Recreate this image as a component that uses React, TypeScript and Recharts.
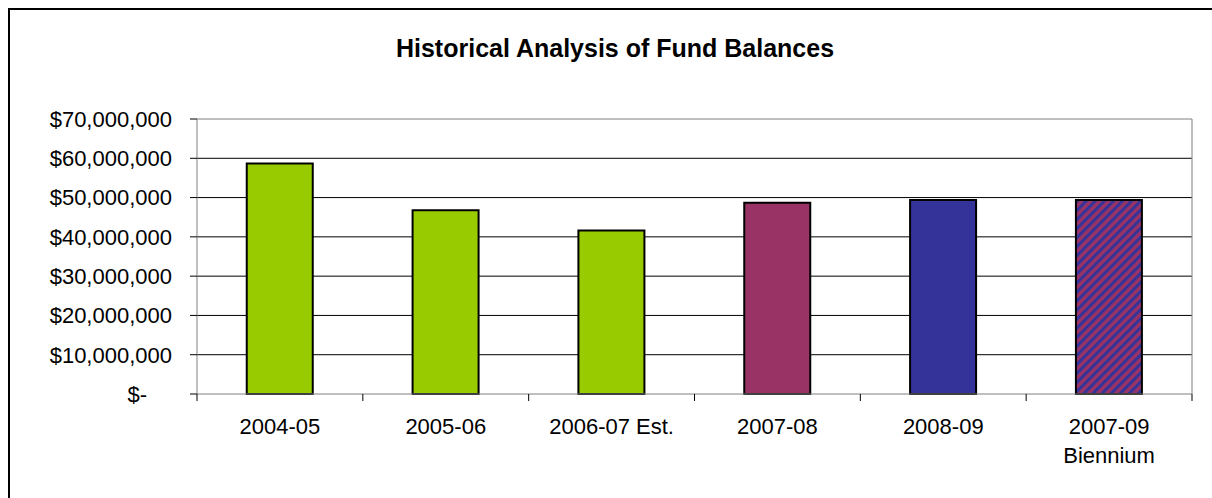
import { BarChart, Bar, XAxis, YAxis, CartesianGrid, Cell, ReferenceLine } from "recharts";

const categories = ["2004-05", "2005-06", "2006-07 Est.", "2007-08", "2008-09", "2007-09\nBiennium"];
const balances = [58700000, 46800000, 41600000, 48700000, 49400000, 49400000];
const yTicks = [0, 10000000, 20000000, 30000000, 40000000, 50000000, 60000000, 70000000];
const gridValues = [10000000, 20000000, 30000000, 40000000, 50000000, 60000000];

const barColors = ["#99CC00", "#99CC00", "#99CC00", "#993366", "#333399", "url(#bienniumStripes)"];

const data = categories.map((label, i) => ({ label, balance: balances[i] }));

const FONT = '"Liberation Sans", Arial, sans-serif';

function money(v: number) {
    return v === 0 ? "$-" : "$" + v.toLocaleString("en-US");
}

function YTick(props: any) {
    const { x, y, payload } = props;
    const v = payload.value;
    // the zero label sits further left (accounting format)
    return (
        <text x={v === 0 ? x - 25 : x} y={y} dy="0.36em" textAnchor="end" fontSize={22} fontFamily={FONT} fill="#000">
            {money(v)}
        </text>
    );
}

function XTick(props: any) {
    const { x, y, payload, index, width, visibleTicksCount } = props;
    const half = payload.offset || width / visibleTicksCount / 2;
    const axisY = y - 7;
    const lines = String(payload.value).split("\n");
    return (
        <g>
            <line x1={x - half} x2={x - half} y1={axisY} y2={axisY + 7} stroke="#000" />
            {index === visibleTicksCount - 1 && (
                <line x1={x + half} x2={x + half} y1={axisY} y2={axisY + 7} stroke="#000" />
            )}
            <text x={x} y={axisY + 40} textAnchor="middle" fontSize={22} fontFamily={FONT} fill="#000">
                {lines.map((l, i) => (
                    <tspan key={i} x={x} dy={i === 0 ? 0 : 29}>
                        {l}
                    </tspan>
                ))}
            </text>
        </g>
    );
}

export default function App() {
    return (
        <div style={{ position: "absolute", left: 0, top: 0, width: 1212, height: 498, overflow: "hidden", background: "#fff" }}>
            <div
                style={{
                    position: "absolute",
                    left: 8,
                    top: 8,
                    width: 1300,
                    height: 600,
                    borderLeft: "2px solid #000",
                    borderTop: "2px solid #000",
                }}
            />
            <BarChart
                width={1212}
                height={498}
                data={data}
                margin={{ top: 119, right: 19, bottom: 44, left: 0 }}
                barCategoryGap="30%"
                style={{ position: "absolute", left: 0, top: 0 }}
            >
                <CartesianGrid vertical={false} stroke="#000" horizontalValues={gridValues} />
                <XAxis
                    dataKey="label"
                    height={60}
                    tickSize={7}
                    tickMargin={0}
                    tickLine={false}
                    axisLine={{ stroke: "#808080" }}
                    tick={<XTick />}
                    interval={0}
                />
                <YAxis
                    width={197}
                    domain={[0, 70000000]}
                    ticks={yTicks}
                    tickSize={7}
                    tickMargin={18}
                    tickLine={{ stroke: "#000" }}
                    axisLine={{ stroke: "#808080" }}
                    tick={<YTick />}
                    interval={0}
                />
                <YAxis
                    yAxisId="right"
                    orientation="right"
                    width={1}
                    tick={false}
                    tickLine={false}
                    axisLine={{ stroke: "#808080" }}
                />
                <ReferenceLine y={70000000} stroke="#808080" />
                <Bar dataKey="balance" stroke="#000" strokeWidth={2} isAnimationActive={false}>
                    {data.map((d, i) => (
                        <Cell key={d.label} fill={barColors[i]} />
                    ))}
                </Bar>
            </BarChart>
            <svg width={1212} height={498} style={{ position: "absolute", left: 0, top: 0, pointerEvents: "none" }}>
                <defs>
                    <pattern
                        id="bienniumStripes"
                        patternUnits="userSpaceOnUse"
                        width={6.4}
                        height={6.4}
                        patternTransform="rotate(45)"
                    >
                        <rect width={6.4} height={6.4} fill="#993366" />
                        <rect width={3} height={6.4} fill="#333399" />
                    </pattern>
                </defs>
                <text x={615} y={57} textAnchor="middle" fontSize={25} fontWeight="bold" fontFamily={FONT} fill="#000">
                    Historical Analysis of Fund Balances
                </text>
            </svg>
        </div>
    );
}
